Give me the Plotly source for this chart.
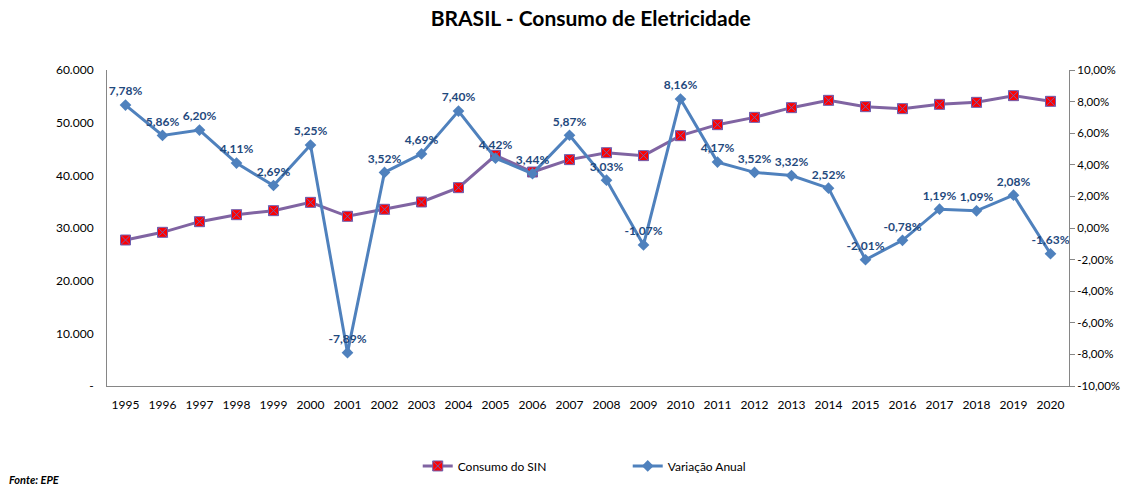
import plotly.graph_objects as go

anos = [str(a) for a in range(1995, 2021)]
consumo = [27720, 29180, 31200, 32530, 33290, 34870, 32220, 33550, 34940, 37660,
           43800, 40630, 42980, 44300, 43740, 47530, 49620, 51010, 52850, 54240,
           53040, 52660, 53480, 53860, 55130, 54050]
variacao = [7.78, 5.86, 6.20, 4.11, 2.69, 5.25, -7.89, 3.52, 4.69, 7.40,
            4.42, 3.44, 5.87, 3.03, -1.07, 8.16, 4.17, 3.52, 3.32, 2.52,
            -2.01, -0.78, 1.19, 1.09, 2.08, -1.63]

y1_vals = [0, 10000, 20000, 30000, 40000, 50000, 60000]
y1_text = ["-", "10.000", "20.000", "30.000", "40.000", "50.000", "60.000"]
y2_vals = [-10, -8, -6, -4, -2, 0, 2, 4, 6, 8, 10]
y2_text = ["-10,00%", "-8,00%", "-6,00%", "-4,00%", "-2,00%", "0,00%",
           "2,00%", "4,00%", "6,00%", "8,00%", "10,00%"]

FONT = "Lato"

fig = go.Figure()
fig.add_trace(go.Scatter(
    x=anos, y=consumo, name="Consumo do SIN", mode="lines+markers",
    line=dict(color="#8064A2", width=3),
    marker=dict(symbol="square-x", size=10, color="#FF0000",
                line=dict(color="#7060B0", width=1)),
    yaxis="y"))
fig.add_trace(go.Scatter(
    x=anos, y=variacao, name="Variação Anual", mode="lines+markers+text",
    line=dict(color="#4F81BD", width=3),
    marker=dict(symbol="diamond", size=9, color="#4F81BD"),
    texttemplate="%{y:.2f}%", textposition="top center",
    textfont=dict(family=FONT, size=12, color="#1F497D", weight="bold"),
    yaxis="y2"))

fig.update_layout(
    width=1121, height=486,
    separators=",.",
    paper_bgcolor="white", plot_bgcolor="white",
    margin=dict(l=107, r=52, t=70, b=100, autoexpand=False),
    font=dict(family=FONT, size=12, color="#000000"),
    title=dict(text="<b>BRASIL - Consumo de Eletricidade</b>", x=0.527, xanchor="center",
               y=1 - 19 / 486, yanchor="middle", yref="container",
               font=dict(family=FONT, size=21, color="#000000")),
    xaxis=dict(type="category", range=[-0.5, 25.5], showline=True, linecolor="#868686",
               linewidth=1, ticks="", showgrid=False, tickfont=dict(size=12),
               ticklabelstandoff=8, automargin=False),
    yaxis=dict(range=[0, 60000], tickvals=y1_vals, ticktext=y1_text, showline=True,
               linecolor="#868686", linewidth=1, ticks="", showgrid=False, zeroline=False,
               tickfont=dict(size=12), ticklabelstandoff=10, automargin=False),
    yaxis2=dict(range=[-10, 10], tickvals=y2_vals, ticktext=y2_text, overlaying="y",
                side="right", showline=True, linecolor="#868686", linewidth=1,
                ticks="outside", ticklen=5, tickcolor="#868686", showgrid=False,
                zeroline=False, tickfont=dict(size=11.5), automargin=False),
    legend=dict(orientation="h", x=0.323, xanchor="left", y=-0.253, yanchor="middle",
                font=dict(size=12), entrywidth=165, itemwidth=30),
    showlegend=True,
    annotations=[dict(text="<b><i>Fonte: EPE</i></b>", xref="paper", yref="paper",
                      x=-0.104, y=-0.297, xanchor="left", yanchor="middle",
                      showarrow=False, font=dict(size=11, color="#000000"))],
)

fig.write_html("out.html", config={"displayModeBar": False},
               post_script="document.body.style.margin='0';")
